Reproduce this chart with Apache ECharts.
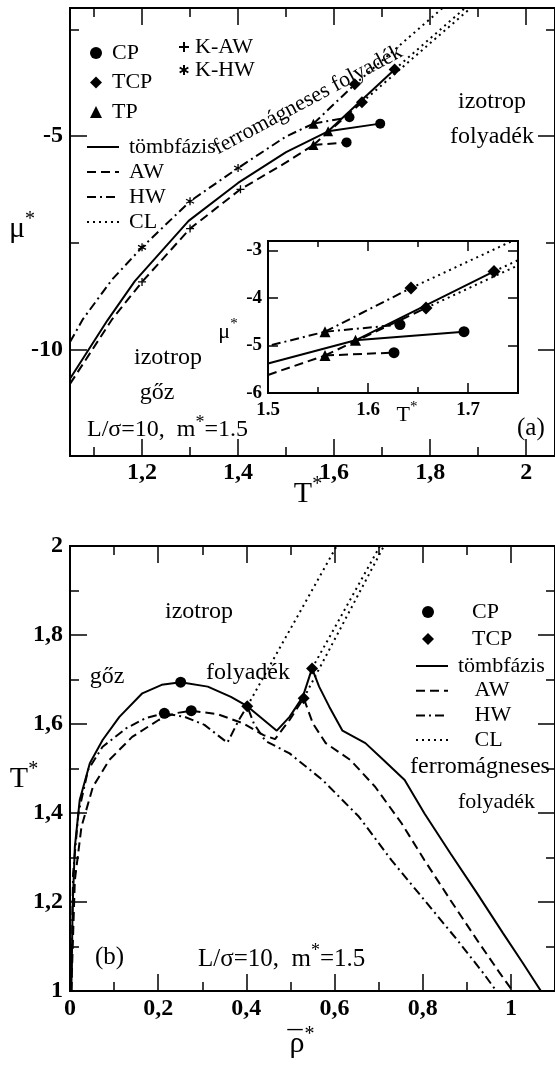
<!DOCTYPE html>
<html><head><meta charset="utf-8">
<script src="https://cdn.jsdelivr.net/npm/echarts@6/dist/echarts.min.js"></script>
<style>html,body{margin:0;padding:0;background:#fff}#c{width:555px;height:1068px}</style>
</head><body><div id="c"></div>
<script>
// ---------- Panel (a): mu* vs T* ----------
const aBulkLow = [[1.05,-10.69],[1.128,-9.32],[1.185,-8.40],[1.297,-6.99],[1.40,-6.10],[1.5,-5.38],[1.5875,-4.89]];
const aBulkVL  = [[1.5875,-4.89],[1.696,-4.71]];
const aBulkLF  = [[1.5875,-4.89],[1.726,-3.44]];
const aAWLow   = [[1.05,-10.81],[1.138,-9.29],[1.2,-8.42],[1.3,-7.17],[1.405,-6.25],[1.5,-5.62],[1.557,-5.21]];
const aAWVL    = [[1.557,-5.21],[1.626,-5.15]];
const aAWLF    = [[1.557,-5.21],[1.658,-4.21]];
const aHWLow   = [[1.05,-9.83],[1.077,-9.29],[1.138,-8.36],[1.2,-7.61],[1.3,-6.53],[1.4,-5.75],[1.5,-5.01],[1.557,-4.71]];
const aHWVL    = [[1.557,-4.71],[1.632,-4.56]];
const aHWLF    = [[1.557,-4.71],[1.643,-3.79]];
const aCLBulk  = [[1.726,-3.44],[1.89,-1.83]];
const aCLAW    = [[1.658,-4.21],[1.90,-1.85]];
const aCLHW    = [[1.643,-3.79],[1.83,-1.96]];
const aCP  = [[1.696,-4.71],[1.632,-4.56],[1.626,-5.15]];
const aTCP = [[1.726,-3.44],[1.658,-4.21],[1.643,-3.79]];
const aTP  = [[1.5875,-4.89],[1.557,-4.71],[1.557,-5.21]];
const aKAW = [[1.2,-8.42],[1.3,-7.17],[1.405,-6.25]];
const aKHW = [[1.2,-7.61],[1.3,-6.53],[1.4,-5.75]];

// ---------- Panel (b): T* vs rho* ----------
const bBulk = [[0.003,1.0],[0.006,1.19],[0.011,1.324],[0.022,1.429],[0.045,1.512],[0.074,1.564],[0.112,1.616],[0.164,1.669],[0.208,1.688],[0.251,1.694],[0.3125,1.684],[0.365,1.661],[0.402,1.640],[0.469,1.585],[0.498,1.616],[0.528,1.661],[0.549,1.725],[0.565,1.684],[0.588,1.639],[0.618,1.585],[0.67,1.557],[0.711,1.519],[0.759,1.474],[0.804,1.399],[0.863,1.309],[0.923,1.22],[0.982,1.130],[1.027,1.063],[1.068,1.0]];
const bAW = [[0.003,1.0],[0.011,1.249],[0.026,1.369],[0.052,1.459],[0.089,1.519],[0.141,1.571],[0.201,1.609],[0.238,1.624],[0.275,1.630],[0.335,1.622],[0.394,1.601],[0.439,1.575],[0.465,1.566],[0.498,1.609],[0.530,1.658],[0.551,1.601],[0.580,1.557],[0.636,1.519],[0.692,1.459],[0.752,1.377],[0.804,1.294],[0.863,1.204],[0.923,1.115],[0.975,1.040],[1.004,1.0]];
const bHW = [[0.003,1.0],[0.007,1.264],[0.019,1.399],[0.041,1.497],[0.074,1.549],[0.127,1.590],[0.171,1.613],[0.214,1.624],[0.260,1.616],[0.305,1.598],[0.357,1.558],[0.383,1.609],[0.402,1.640],[0.417,1.601],[0.443,1.562],[0.498,1.534],[0.573,1.474],[0.655,1.392],[0.729,1.294],[0.804,1.204],[0.878,1.115],[0.9375,1.040],[0.967,1.0]];
const bCLHW   = [[0.402,1.640],[0.605,2.0]];
const bCLBulk = [[0.549,1.725],[0.703,2.0]];
const bCLAW   = [[0.530,1.658],[0.712,2.0]];
const bCP  = [[0.251,1.694],[0.214,1.624],[0.275,1.630]];
const bTCP = [[0.402,1.640],[0.530,1.658],[0.549,1.725]];

// ---------- Ticks / labels ----------
const aXMajor = [1.2,1.4,1.6,1.8,2.0], aXMinor = [1.1,1.3,1.5,1.7,1.9];
const aYMajor = [-10,-5], aYMinor = [-7.5,-2.5];
const iXMajor = [1.5,1.6,1.7], iXMinor = [1.55,1.65], iYMajor = [-6,-5,-4,-3];
const bXMajor = [0,0.2,0.4,0.6,0.8,1.0], bXMinor = [0.1,0.3,0.5,0.7,0.9];
const bYMajor = [1,1.2,1.4,1.6,1.8,2], bYMinor = [1.1,1.3,1.5,1.7,1.9];

const FONT = "'Liberation Serif','Times New Roman',serif";
const comma = v => String(v).replace('.', ',');
const dot1 = v => Number(v).toFixed(1);
const intf = v => String(v);

const X = [], Y = [];
function axisSet(arr, dim, grid, min, max, major, minor, labels, fmt, o) {
  const idx = arr.length;
  const base = {type:'value', gridIndex:grid, min:min, max:max, scale:true,
    axisLine:{show:false,onZero:false}, splitLine:{show:false}, minorTick:{show:false}};
  const pos = dim === 'x' ? ['bottom','top'] : ['left','right'];
  const tick = (vals,len) => ({show:true, inside:true, length:len, customValues:vals, lineStyle:{color:'#000', width:1.5}});
  arr.push(Object.assign({}, base, {position:pos[0], axisTick:tick(major,o.maj),
    axisLabel:{show:true, customValues:labels, formatter:fmt, color:'#000', fontFamily:FONT, fontSize:o.fs, fontWeight:'bold', margin:o.margin}}));
  arr.push(Object.assign({}, base, {position:pos[1], axisTick:tick(major,o.maj), axisLabel:{show:false}}));
  if (minor) {
    arr.push(Object.assign({}, base, {position:pos[0], axisTick:tick(minor,o.min), axisLabel:{show:false}}));
    arr.push(Object.assign({}, base, {position:pos[1], axisTick:tick(minor,o.min), axisLabel:{show:false}}));
  }
  return idx;
}
const xa = axisSet(X,'x',0,1.05,2.06,aXMajor,aXMinor,aXMajor,comma,{maj:17,min:9,fs:24,margin:5});
const ya = axisSet(Y,'y',0,-12.5,-2,aYMajor,aYMinor,aYMajor,intf,{maj:17,min:9,fs:24,margin:7});
const xi = axisSet(X,'x',1,1.5,1.75,iXMajor,iXMinor,iXMajor,dot1,{maj:10,min:6,fs:19,margin:8});
const yi = axisSet(Y,'y',1,-6,-2.8,iYMajor,null,iYMajor,intf,{maj:10,min:6,fs:19,margin:6});
const xb = axisSet(X,'x',2,0,1.1,bXMajor,bXMinor,bXMajor,comma,{maj:17,min:9,fs:24,margin:6});
const yb = axisSet(Y,'y',2,1,2,bYMajor,bYMinor,bYMajor,comma,{maj:17,min:9,fs:24,margin:7});

const SOLID = 'solid', DASH = [9,5], DASHDOT = [9,4,2,4], DOT = [2,4];
function L(name, data, x, y, type) {
  return {type:'line', name:name, data:data, xAxisIndex:x, yAxisIndex:y, symbol:'none', showSymbol:false,
    lineStyle:{color:'#000', width:2, type:type}, itemStyle:{color:'#000'}, clip:true, silent:true, z:2};
}
const PLUS = 'path://M5,0V10M0,5H10';
const STAR = 'path://M5,0V10M0.67,2.5L9.33,7.5M0.67,7.5L9.33,2.5';
function S(name, data, x, y, symbol, size, st) {
  return {type:'scatter', name:name, data:data, xAxisIndex:x, yAxisIndex:y, symbol:symbol, symbolSize:size,
    itemStyle:Object.assign({color:'#000', opacity:1}, st||{}), clip:true, silent:true, z:5};
}
const thin = {color:'rgba(0,0,0,0)', borderColor:'#000', borderWidth:1.3, opacity:1};

const series = [];
function panelA(x, y, ms) {
  series.push(L('tömbfázis', aBulkLow, x, y, SOLID), L('tömbfázis', aBulkVL, x, y, SOLID), L('tömbfázis', aBulkLF, x, y, SOLID));
  series.push(L('AW', aAWLow, x, y, DASH), L('AW', aAWVL, x, y, DASH), L('AW', aAWLF, x, y, DASH));
  series.push(L('HW', aHWLow, x, y, DASHDOT), L('HW', aHWVL, x, y, DASHDOT), L('HW', aHWLF, x, y, DASHDOT));
  series.push(L('CL', aCLBulk, x, y, DOT), L('CL', aCLAW, x, y, DOT), L('CL', aCLHW, x, y, DOT));
  series.push(S('CP', aCP, x, y, 'circle', ms), S('TCP', aTCP, x, y, 'diamond', ms+2), S('TP', aTP, x, y, 'triangle', ms));
}
panelA(xa, ya, 10);
series.push(S('K-AW', aKAW, xa, ya, PLUS, 8, thin), S('K-HW', aKHW, xa, ya, STAR, 8, thin));
panelA(xi, yi, 11);
series.push(L('tömbfázis', bBulk, xb, yb, SOLID), L('AW', bAW, xb, yb, DASH), L('HW', bHW, xb, yb, DASHDOT));
series.push(L('CL', bCLHW, xb, yb, DOT), L('CL', bCLBulk, xb, yb, DOT), L('CL', bCLAW, xb, yb, DOT));
series.push(S('CP', bCP, xb, yb, 'circle', 11), S('TCP', bTCP, xb, yb, 'diamond', 12));

const lt = pad => ({fontFamily:FONT, fontSize:22, color:'#000', lineHeight:22, padding:[0,0,0,pad]});
const legBase = {orient:'vertical', padding:0, selectedMode:false, inactiveColor:'#000'};
const noSym = {itemStyle:{opacity:0, borderWidth:0}};

function T(x, y, text, fs, align, extra) {
  return Object.assign({type:'text', x:x, y:y, z:100, silent:true,
    style:{text:text, fill:'#000', font:fs+'px '+FONT, fontSize:fs, fontFamily:FONT,
      textAlign:align||'center', align:align||'center', textVerticalAlign:'middle', verticalAlign:'middle'}}, extra||{});
}
function R(x, y, text, fs, sfs, align) {
  const el = T(x, y, text, fs, align);
  el.style.rich = {
    a:{fontSize:fs, fontFamily:FONT, fill:'#000', lineHeight:fs+4, verticalAlign:'bottom'},
    s:{fontSize:sfs, fontFamily:FONT, fill:'#000', lineHeight:sfs, verticalAlign:'top'}
  };
  return el;
}

const graphics = [
  T(308, 100, 'ferromágneses folyadék', 22, 'center', {rotation: 28*Math.PI/180}),
  T(492, 102, 'izotrop', 24), T(492, 137, 'folyadék', 24),
  T(168, 358, 'izotrop', 24), T(157, 393, 'gőz', 24),
  R(87, 428, '{a|L/σ=10,  m}{s|*}{a|=1.5}', 24, 18, 'left'),
  T(517, 428, '(a)', 25, 'left'),
  R(308, 492, '{a|T}{s|*}', 30, 20),
  R(22, 227, '{a|μ}{s|*}', 30, 20),
  R(228, 330, '{a|μ}{s|*}', 22, 15),
  R(407, 413, '{a|T}{s|*}', 22, 15),
  T(199, 612, 'izotrop', 24), T(107, 677, 'gőz', 24), T(248, 673, 'folyadék', 24),
  T(410, 767, 'ferromágneses', 24, 'left'), T(458, 802, 'folyadék', 22, 'left'),
  T(95, 957, '(b)', 25, 'left'),
  R(198, 957, '{a|L/σ=10,  m}{s|*}{a|=1.5}', 25, 18, 'left'),
  R(24, 777, '{a|T}{s|*}', 30, 20),
  R(302, 1042, '{a|ρ}{s|*}', 30, 20),
  T(295, 1043, '¯', 30)
];

const option = {
  animation:false,
  backgroundColor:'#fff',
  grid:[
    {left:70, top:8, width:493, height:448, show:true, borderColor:'#000', borderWidth:2, backgroundColor:'rgba(0,0,0,0)'},
    {left:268, top:241, width:250, height:152, show:true, borderColor:'#000', borderWidth:2, backgroundColor:'#fff'},
    {left:70, top:546, width:493, height:445, show:true, borderColor:'#000', borderWidth:2, backgroundColor:'rgba(0,0,0,0)'}
  ],
  xAxis:X, yAxis:Y,
  legend:[
    Object.assign({}, legBase, {data:['CP','TCP','TP'], left:90, top:42, itemWidth:12, itemHeight:12, itemGap:7.5, textStyle:lt(5)}),
    Object.assign({}, legBase, {data:['K-AW','K-HW'], left:178, top:36, itemWidth:10, itemHeight:10, itemGap:1, textStyle:lt(1)}),
    Object.assign({}, legBase, noSym, {data:['tömbfázis','AW','HW','CL'], left:86, top:136, itemWidth:32, itemHeight:14, itemGap:3, textStyle:lt(5)}),
    Object.assign({}, legBase, {data:['CP','TCP'], left:422, top:601, itemWidth:12, itemHeight:12, itemGap:5, textStyle:lt(33)}),
    Object.assign({}, legBase, noSym, {data:['tömbfázis','AW','HW','CL'], left:415, top:655, itemWidth:32, itemHeight:14, itemGap:2.7, textStyle:lt(5),
      formatter: n => n === 'tömbfázis' ? n : '   ' + n})
  ],
  graphic:graphics,
  series:series
};
const chart = echarts.init(document.getElementById('c'), null, {renderer:'canvas'});
chart.setOption(option);
</script></body></html>
